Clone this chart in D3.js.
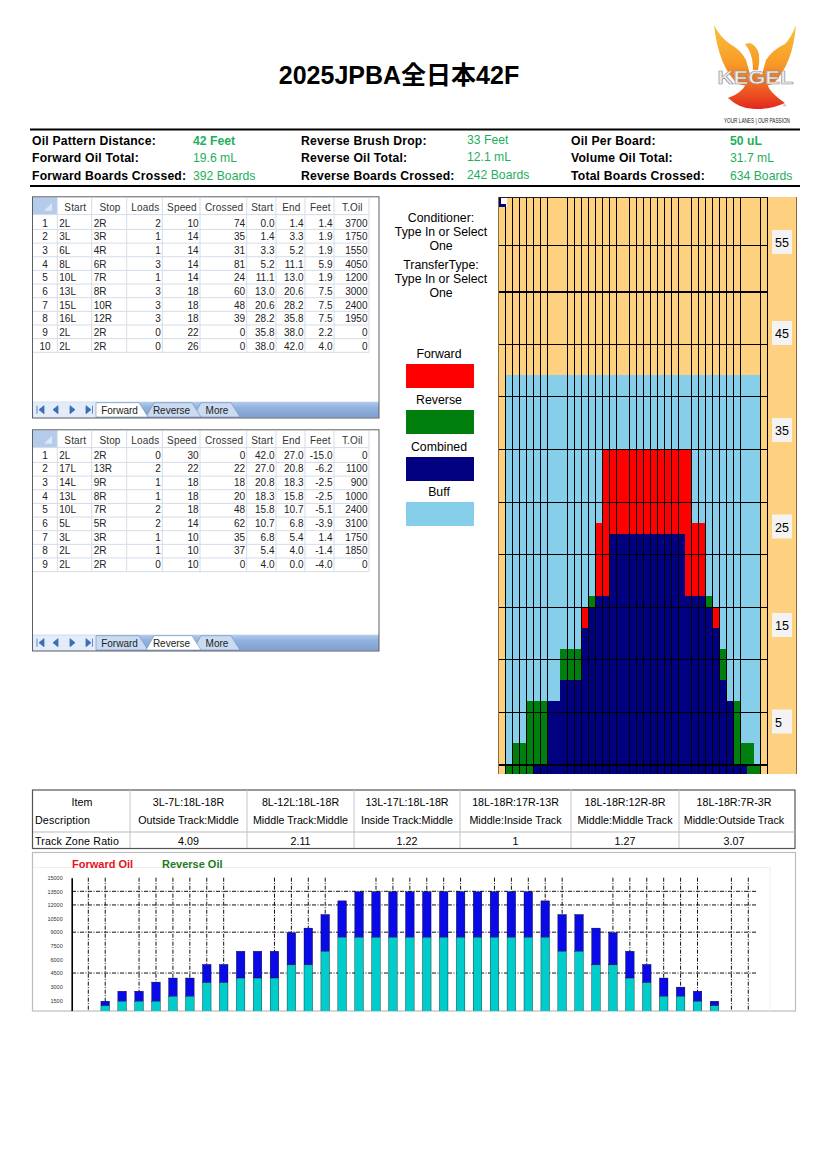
<!DOCTYPE html>
<html><head><meta charset="utf-8">
<script src="https://cdn.jsdelivr.net/npm/d3@7/dist/d3.min.js"></script>
<style>
html,body{margin:0;padding:0;background:#fff}
svg{display:block}
text{font-family:"Liberation Sans",Arial,sans-serif}
</style></head><body>
<svg id="c" width="826" height="1169" viewBox="0 0 826 1169"></svg>
<script>
// ---------- DATA ----------
const title = "2025JPBA全日本42F";
const infoLabels1 = ["Oil Pattern Distance:","Forward Oil Total:","Forward Boards Crossed:"];
const infoValues1 = ["42 Feet","19.6 mL","392 Boards"];
const infoLabels2 = ["Reverse Brush Drop:","Reverse Oil Total:","Reverse Boards Crossed:"];
const infoValues2 = ["33 Feet","12.1 mL","242 Boards"];
const infoLabels3 = ["Oil Per Board:","Volume Oil Total:","Total Boards Crossed:"];
const infoValues3 = ["50 uL","31.7 mL","634 Boards"];

const tableHeaders = ["Start","Stop","Loads","Speed","Crossed","Start","End","Feet","T.Oil"];
const fwdStart = ["2L","3L","6L","8L","10L","13L","15L","16L","2L","2L"];
const fwdStop = ["2R","3R","4R","6R","7R","8R","10R","12R","2R","2R"];
const fwdLoads = [2,1,1,3,1,3,3,3,0,0];
const fwdSpeed = [10,14,14,14,14,18,18,18,22,26];
const fwdCrossed = [74,35,31,81,24,60,48,39,0,0];
const fwdFrom = ["0.0","1.4","3.3","5.2","11.1","13.0","20.6","28.2","35.8","38.0"];
const fwdEnd = ["1.4","3.3","5.2","11.1","13.0","20.6","28.2","35.8","38.0","42.0"];
const fwdFeet = ["1.4","1.9","1.9","5.9","1.9","7.5","7.5","7.5","2.2","4.0"];
const fwdOil = [3700,1750,1550,4050,1200,3000,2400,1950,0,0];
const revStart = ["2L","17L","14L","13L","10L","5L","3L","2L","2L"];
const revStop = ["2R","13R","9R","8R","7R","5R","3R","2R","2R"];
const revLoads = [0,2,1,1,2,2,1,1,0];
const revSpeed = [30,22,18,18,18,14,10,10,10];
const revCrossed = [0,22,18,20,48,62,35,37,0];
const revFrom = ["42.0","27.0","20.8","18.3","15.8","10.7","6.8","5.4","4.0"];
const revEnd = ["27.0","20.8","18.3","15.8","10.7","6.8","5.4","4.0","0.0"];
const revFeet = ["-15.0","-6.2","-2.5","-2.5","-5.1","-3.9","1.4","-1.4","-4.0"];
const revOil = [0,1100,900,1000,2400,3100,1750,1850,0];

const conditionerLines = ["Conditioner:","Type In or Select","One"];
const transferLines = ["TransferType:","Type In or Select","One"];
const legendNames = ["Forward","Reverse","Combined","Buff"];

// pattern graph: one entry per board column (0..38), heights in graph feet
const buffColumns = [1,2,3,4,5,6,7,8,9,10,11,12,13,14,15,16,17,18,19,20,21,22,23,24,25,26,27,28,29,30,31,32,33,34,35,36,37];
const buffTop = 37.1;
const oilKind = ["","","R","R","R","R","R","","","R","R","R","F","R","F","F","F","F","F","F","F","F","F","F","F","F","F","F","F","F","R","F","R","","R","R","R","",""];
const oilTop  = [0,0,2.1,2.1,6.1,6.1,6.1,0,0,11,11,11,15,16.1,23,30,30,30,30,30,30,30,30,30,30,30,30,30,23,23,16.1,15,11,0,6.1,2.1,2.1,0,0];
const combinedTop = [0,0,0,0,0,0,0,6.1,6.1,8.1,8.1,8.1,13,15,16.1,16.1,22,22,22,22,22,22,22,22,22,22,22,16.1,16.1,16.1,15,13,8.1,6.1,0,0,0,0,0];
const headKind = ["","R","R","R","R","C","C","C","C","C","C","C","C","C","C","C","C","C","C","C","C","C","C","C","C","C","C","C","C","C","C","C","C","C","C","C","R","R",""];
const boardLines = [1,2,3,4,5,6,7,10,11,12,13,14,15,16,17,19,20,21,22,23,24,25,26,28,29,30,31,32,33,34,35,38,39];
const feetLines = [5,10,15,20,25,30,35,40,45,49.4];
const feetLabels = [55,45,35,25,15,5];

const ratioItems = ["3L-7L:18L-18R","8L-12L:18L-18R","13L-17L:18L-18R","18L-18R:17R-13R","18L-18R:12R-8R","18L-18R:7R-3R"];
const ratioDescriptions = ["Outside Track:Middle","Middle Track:Middle","Inside Track:Middle","Middle:Inside Track","Middle:Middle Track","Middle:Outside Track"];
const ratioValues = ["4.09","2.11","1.22","1","1.27","3.07"];

// oil per board chart, boards 1..37
const barBoards = d3.range(1,38);
const totalOil = [1400,2500,2500,3500,3950,3950,5450,5450,6900,6900,6900,8950,9450,10950,12450,13450,13450,13450,13450,13450,13450,13450,13450,13450,13450,13450,12450,10950,10950,9450,8950,6900,5450,3950,2950,2500,1400];
const reverseOil = [900,1400,1400,1400,1950,1950,3450,3450,3950,3950,3950,5400,5400,6900,8450,8450,8450,8450,8450,8450,8450,8450,8450,8450,8450,8450,8450,6900,6900,5400,5400,3950,3450,1950,1950,1400,900];
const oilTicks = [1500,3000,4500,6000,7500,9000,10500,12000,13500,15000];
const oilGridValues = [4500,9000,12000,13500];
const oilGridBoards = [0,1,3,4,5,6,7,8,11,12,13,14,17,18,19,20,21,22,24,25,26,27,28,31,32,33,34,35,36,38,39];

// ---------- COLOURS ----------
const C = {orange:"#FDD17F",buff:"#87CEEB",fwd:"#FF0000",rev:"#007F0E",comb:"#000080",
  green:"#1FAE5C",grid:"#D5DCE8",frame:"#5a5f66",corner:"#B4CBEA",bar:"#8FB0DC",blue:"#0A0AE6",teal:"#00CCCC"};

const svg = d3.select("#c");
const defs = svg.append("defs");
const g1 = defs.append("linearGradient").attr("id","logoGrad").attr("gradientUnits","userSpaceOnUse")
  .attr("x1",0).attr("x2",0).attr("y1",25).attr("y2",112);
[[0,"#F9C23C"],[.45,"#F79A26"],[.75,"#EE5A22"],[1,"#E0201C"]].forEach(d=>g1.append("stop").attr("offset",d[0]).attr("stop-color",d[1]));
const g2 = defs.append("linearGradient").attr("id","tabBar").attr("x1",0).attr("x2",0).attr("y1",0).attr("y2",1);
[[0,"#B5CCEB"],[.35,"#92B3DF"],[1,"#7F9FD0"]].forEach(d=>g2.append("stop").attr("offset",d[0]).attr("stop-color",d[1]));
defs.append("clipPath").attr("id","oilClip").append("rect").attr("x",33).attr("y",853).attr("width",762).attr("height",158);

function txt(p,x,y,s,o={}){
  const t=p.append("text").attr("x",x).attr("y",y).text(s)
    .attr("font-size",o.size||10).attr("fill",o.fill||"#000").attr("text-anchor",o.anchor||"start");
  if(o.bold)t.attr("font-weight","bold");
  if(o.ls)t.attr("letter-spacing",o.ls);
  if(o.family)t.style("font-family",o.family);
  if(o.len)t.attr("textLength",o.len).attr("lengthAdjust","spacingAndGlyphs");
  return t;
}

// ---------- TITLE ----------
txt(svg,399,84,title,{size:25,bold:true,anchor:"middle",family:'"Liberation Sans","Noto Sans CJK JP",sans-serif'});

// ---------- LOGO ----------
const logo=svg.append("g");
["M714,25 Q720,37 730,44 Q741,50 746,60 L750,74 L748,86 L738,84 Q719,68 714,25Z",
 "M796,25 Q791,38 785,44 Q772,50 766,60 L762,74 L764,86 L773,84 Q793,64 796,25Z",
 "M745,44 L750,43 Q757,46 759,54 Q760,62 758,70 L753,70 Q753,58 749,50 L747,47Z",
 "M748,74 L764,74 L767,84 Q770,93 785,103 Q772,109 757,109 Q741,110 728,98 Q742,93 746,84Z"]
 .forEach(d=>logo.append("path").attr("d",d).attr("fill","url(#logoGrad)"));
txt(logo,755.5,84,"KEGEL",{size:19,bold:true,anchor:"middle",fill:"#ECECEC",len:76}).attr("stroke","#8f8f8f").attr("stroke-width",.6);
txt(logo,783,107,"®",{size:4,fill:"#555"});
txt(logo,757,122.5,"YOUR LANES | OUR PASSION",{size:6.5,anchor:"middle",fill:"#222",len:66});

// ---------- INFO BLOCK ----------
[[129.5,1.8],[186,1.8]].forEach(([y,w])=>svg.append("line").attr("x1",30).attr("x2",800).attr("y1",y).attr("y2",y).attr("stroke","#000").attr("stroke-width",w));
const infoY=[145,162,179.5];
[[32,193,infoLabels1,infoValues1,true,0],[301,467,infoLabels2,infoValues2,false,-1],[571,730,infoLabels3,infoValues3,true,0]].forEach(([lx,vx,ls,vs,boldFirst,dy])=>{
  ls.forEach((s,i)=>{
    txt(svg,lx,infoY[i],s,{size:12.2,bold:true,ls:.2});
    txt(svg,vx,infoY[i]+dy,vs[i],{size:12.2,fill:C.green,bold:boldFirst&&i===0});
  });
});

// ---------- EXCEL-LIKE TABLES ----------
const colEdges=[57.3,91.7,126.7,162.3,200,246.7,276,305,334,369];
function sheet(y0,y1,cols,active,textShift){
  const g=svg.append("g");
  const n=cols[0].length;
  const hdrH=17.3, rowH=13.65;
  g.append("rect").attr("x",32.5).attr("y",y0).attr("width",346.5).attr("height",y1-y0).attr("fill","#fff");
  g.append("rect").attr("x",33).attr("y",y0+.5).attr("width",24).attr("height",hdrH).attr("fill",C.corner);
  g.append("path").attr("d",`M${52},${y0+6} L${52},${y0+14} L${44},${y0+14}Z`).attr("fill","#DCE7F6");
  const rowLine=d3.range(0,n+1).map(i=>y0+hdrH+.5+i*rowH+ (i?1.2:0));
  rowLine.forEach(y=>g.append("line").attr("x1",33).attr("x2",369).attr("y1",y).attr("y2",y).attr("stroke",C.grid));
  const bottom=rowLine[n];
  colEdges.forEach(x=>g.append("line").attr("x1",x).attr("x2",x).attr("y1",y0+1).attr("y2",bottom).attr("stroke",C.grid));
  // header
  tableHeaders.forEach((h,i)=>{
    txt(g,(colEdges[i]+colEdges[i+1])/2+.8,y0+hdrH-3.5,h,{size:10,anchor:"middle",fill:"#333",ls:.15});
  });
  // rows
  d3.range(n).forEach(r=>{
    const ty=y0+hdrH+10.5+textShift+r*rowH;
    txt(g,45,ty,r+1,{size:10,anchor:"middle",fill:"#222"});
    cols.forEach((c,i)=>{
      const left=i<2;
      txt(g,left?colEdges[i]+2:colEdges[i+1]-1.5,ty,c[r],{size:10,anchor:left?"start":"end",fill:"#222"});
    });
  });
  // tab strip
  const tb=y1-16.3;
  g.append("rect").attr("x",33).attr("y",tb).attr("width",346).attr("height",16).attr("fill","url(#tabBar)");
  g.append("rect").attr("x",33).attr("y",tb+.5).attr("width",63).attr("height",16).attr("fill","#E3ECF8");
  const by=tb+8;
  [["M37,"+(by-4)+"v8 M44,"+(by-4)+"l-5,4 l5,4z"],["M58,"+(by-4)+"l-5,4 l5,4z"],["M70,"+(by-4)+"l5,4 l-5,4z"],["M86,"+(by-4)+"l5,4 l-5,4z M92.5,"+(by-4)+"v8"]]
   .forEach(d=>g.append("path").attr("d",d[0]).attr("fill","#3B6FB5").attr("stroke","#3B6FB5").attr("stroke-width",.8));
  const tabs=[["Forward",96,140,119.5],["Reverse",146,193,171.5],["More",193,232,217]];
  [2,1,0].filter(i=>i!==active).concat(active).forEach(i=>{
    const [name,a,b,cx]=tabs[i];
    const on=i===active;
    g.append("path").attr("d",`M${a},${y1-1} L${a+(i?8:0)},${tb+1} L${b-1},${tb+1} L${b+8},${y1-1}Z`)
      .attr("fill",on?"#fff":"#C9DAF1").attr("stroke","#6E8FBF").attr("stroke-width",.6);
    txt(g,cx,y1-4,name,{size:10,anchor:"middle",fill:"#222"});
  });
  g.append("rect").attr("x",32.5).attr("y",y0).attr("width",346.5).attr("height",y1-y0).attr("fill","none").attr("stroke",C.frame).attr("stroke-width",1);
}
sheet(196.8,418,[fwdStart,fwdStop,fwdLoads,fwdSpeed,fwdCrossed,fwdFrom,fwdEnd,fwdFeet,fwdOil],0,2.2);
sheet(429.8,651,[revStart,revStop,revLoads,revSpeed,revCrossed,revFrom,revEnd,revFeet,revOil],1,1);

// ---------- MIDDLE NOTES AND LEGEND ----------
conditionerLines.forEach((s,i)=>txt(svg,441,222+i*14,s,{size:12.3,anchor:"middle"}));
transferLines.forEach((s,i)=>txt(svg,441,269+i*14,s,{size:12.3,anchor:"middle"}));
const legendColor=d3.scaleOrdinal(legendNames,[C.fwd,C.rev,C.comb,C.buff]);
const legendY=d3.scaleOrdinal(legendNames,[358,404,451,496]);
svg.append("g").selectAll("g").data(legendNames).join("g").each(function(d){
  const g=d3.select(this);
  txt(g,439,legendY(d),d,{size:12.3,anchor:"middle"});
  g.append("rect").attr("x",406).attr("y",legendY(d)+6).attr("width",68).attr("height",24).attr("fill",legendColor(d));
});

// ---------- PATTERN GRAPH ----------
const px=d3.scaleLinear([0,39],[498.3,767.3]);
const py=d3.scaleLinear([0,10],[765,659.8]);
const pTop=197, pBot=774, pHead=py(0);
const pat=svg.append("g").attr("shape-rendering","crispEdges");
pat.append("rect").attr("x",498).attr("y",pTop).attr("width",298).attr("height",pBot-pTop).attr("fill",C.orange);
const colRect=(sel,top,bot,fill)=>sel.join("rect")
  .attr("x",d=>Math.round(px(d))).attr("width",d=>Math.round(px(d+1))-Math.round(px(d)))
  .attr("y",top).attr("height",d=>Math.max(0,bot(d)-top(d))).attr("fill",fill);
const cols=d3.range(39);
colRect(pat.append("g").selectAll("rect").data(buffColumns),()=>py(buffTop),()=>pHead,C.buff);
colRect(pat.append("g").selectAll("rect").data(cols.filter(i=>oilKind[i])),i=>py(oilTop[i]),()=>pHead,i=>oilKind[i]==="F"?C.fwd:C.rev);
colRect(pat.append("g").selectAll("rect").data(cols.filter(i=>combinedTop[i]>0)),i=>py(combinedTop[i]),()=>pHead,C.comb);
colRect(pat.append("g").selectAll("rect").data(cols.filter(i=>headKind[i])),()=>pHead,()=>pBot,i=>headKind[i]==="R"?C.rev:C.comb);
pat.append("g").selectAll("line").data(boardLines).join("line")
  .attr("x1",d=>Math.round(px(d))).attr("x2",d=>Math.round(px(d))).attr("y1",pTop).attr("y2",pBot).attr("stroke","#000");
pat.append("g").selectAll("line").data(feetLines).join("line")
  .attr("x1",px(0)).attr("x2",px(39)).attr("y1",d=>py(d)).attr("y2",d=>py(d)).attr("stroke","#000").attr("stroke-width",d=>d===45?2:1);
pat.append("line").attr("x1",px(0)).attr("x2",px(39)).attr("y1",pHead).attr("y2",pHead).attr("stroke","#000").attr("stroke-width",2);
pat.append("line").attr("x1",px(0)).attr("x2",px(39)).attr("y1",pTop).attr("y2",pTop).attr("stroke","#222");
pat.append("line").attr("x1",498).attr("x2",498).attr("y1",pTop).attr("y2",pBot).attr("stroke","#8a6d3b");
pat.append("line").attr("x1",796).attr("x2",796).attr("y1",pTop).attr("y2",pBot).attr("stroke","#8a6d3b");
pat.append("rect").attr("x",499).attr("y",198).attr("width",8).attr("height",9).attr("fill","#fff");
pat.append("path").attr("d","M499,198 h2 v6 h5 v3 h-7z").attr("fill",C.comb);
const labelY=d3.scaleLinear([5,15,25,35,45,55],[721.5,625,526.5,430,333,242]);
const lab=svg.append("g").selectAll("g").data(feetLabels).join("g");
lab.append("rect").attr("x",772).attr("y",d=>labelY(d)-12).attr("width",20).attr("height",24).attr("fill","#F3F3F3");
lab.append("text").attr("x",775).attr("y",d=>labelY(d)+5).text(d=>d).attr("font-size",12.5).attr("fill","#000");

// ---------- TRACK ZONE RATIO TABLE ----------
const rt=svg.append("g");
const rEdges=[130,247,354,460,571,679,795];
const rtY=[790,832,848.5];
rt.append("rect").attr("x",32.5).attr("y",790).attr("width",762.5).attr("height",58.5).attr("fill","#fff").attr("stroke","#555").attr("stroke-width",1.2);
rt.append("line").attr("x1",33).attr("x2",795).attr("y1",rtY[1]).attr("y2",rtY[1]).attr("stroke","#bbb");
rEdges.slice(0,6).forEach(x=>rt.append("line").attr("x1",x).attr("x2",x).attr("y1",790).attr("y2",848).attr("stroke","#c4c4c4"));
txt(rt,82,806,"Item",{size:10.7,anchor:"middle"});
txt(rt,35,824,"Description",{size:10.7,ls:.15});
txt(rt,35,845,"Track Zone Ratio",{size:10.7,ls:.15});
ratioItems.forEach((s,i)=>{
  const cx=(rEdges[i]+rEdges[i+1])/2 - (i===5?3:0);
  txt(rt,cx,806,s,{size:10.7,anchor:"middle"});
  txt(rt,cx,824,ratioDescriptions[i],{size:10.7,anchor:"middle"});
  txt(rt,cx,845,ratioValues[i],{size:10.7,anchor:"middle"});
});

// ---------- OIL PER BOARD CHART ----------
const oc=svg.append("g");
oc.append("rect").attr("x",32.5).attr("y",852.5).attr("width",763).attr("height",158.5).attr("fill","#fff").attr("stroke","#bdbdbd").attr("stroke-width",1.2);
oc.append("path").attr("d","M33,867.5 H770 V1011").attr("fill","none").attr("stroke","#eeeeee");
txt(oc,72,868,"Forward Oil",{size:11,bold:true,fill:"#E8101C"});
txt(oc,162,868,"Reverse Oil",{size:11,bold:true,fill:"#1E7A24"});
const ox=d3.scaleLinear([0,39],[88.3,748.3]);
const oy=d3.scaleLinear([0,15000],[1013.9,877.7]);
const plot=oc.append("g").attr("clip-path","url(#oilClip)");
const dash="4,1.5,1,1.5";
plot.append("g").selectAll("line").data(oilGridValues).join("line")
  .attr("x1",72).attr("x2",757).attr("y1",d=>oy(d)).attr("y2",d=>oy(d)).attr("stroke","#111").attr("stroke-dasharray",dash);
plot.append("g").selectAll("line").data(oilGridBoards).join("line")
  .attr("x1",d=>ox(d)).attr("x2",d=>ox(d)).attr("y1",oy(15000)).attr("y2",1011).attr("stroke","#111").attr("stroke-dasharray",dash);
const bw=8.6;
plot.append("g").selectAll("rect").data(barBoards).join("rect")
  .attr("x",d=>ox(d)-bw/2).attr("width",bw).attr("y",(d,i)=>oy(totalOil[i])).attr("height",(d,i)=>oy(reverseOil[i])-oy(totalOil[i]))
  .attr("fill",C.blue).attr("stroke","#000").attr("stroke-width",.35);
plot.append("g").selectAll("rect").data(barBoards).join("rect")
  .attr("x",d=>ox(d)-bw/2).attr("width",bw).attr("y",(d,i)=>oy(reverseOil[i])).attr("height",(d,i)=>oy(0)-oy(reverseOil[i]))
  .attr("fill",C.teal).attr("stroke","#000").attr("stroke-width",.35);
const yAxis=d3.axisLeft(oy).tickValues(oilTicks).tickSize(0).tickPadding(9).tickFormat(d3.format("d"));
const ya=plot.append("g").attr("transform","translate(71.7,0)").call(yAxis);
ya.select(".domain").attr("stroke","#000").attr("stroke-width",1.6);
ya.selectAll("text").attr("font-size",5.5).attr("fill","#333").style("font-family",'"Liberation Sans",Arial,sans-serif');
</script>
</body></html>
